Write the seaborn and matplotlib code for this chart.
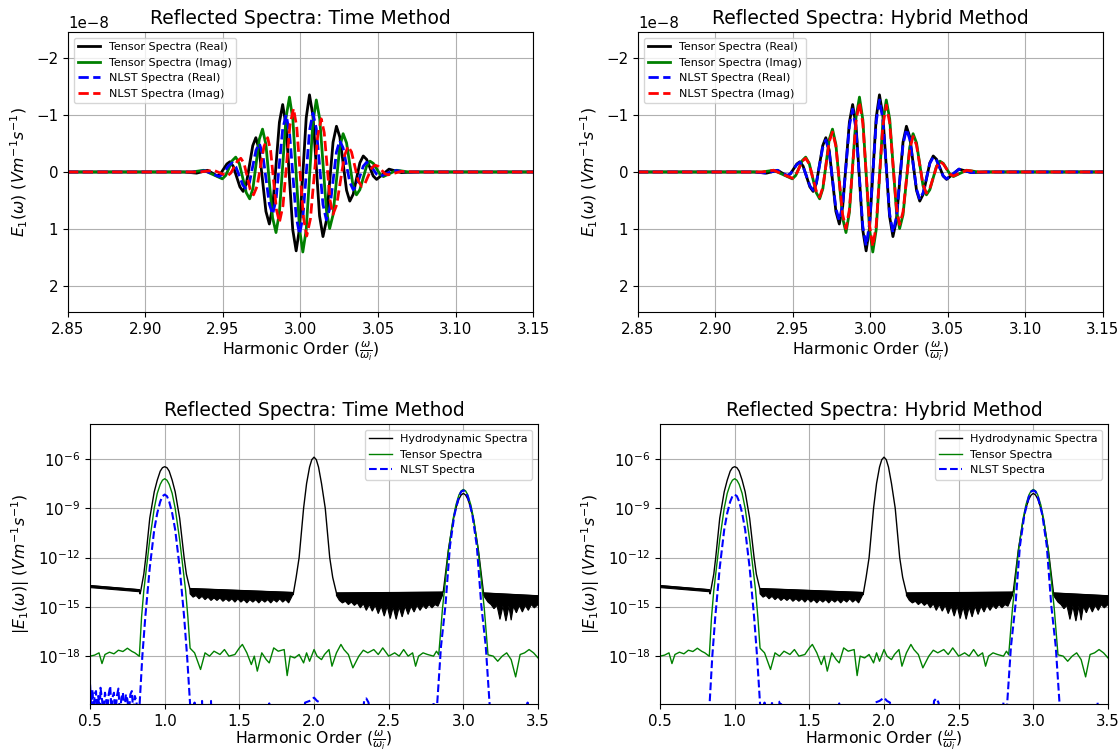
import numpy as np
import matplotlib
matplotlib.use("Agg")
import matplotlib.pyplot as plt
from matplotlib.ticker import NullLocator
import seaborn as sns

# ---- top row: reflected field around the 3rd harmonic (units of 1e-8) ----
tensor_re_x = [2.85, 2.925, 2.933, 2.940, 2.9463, 2.9484, 2.9525, 2.9545, 2.9566, 2.9609, 2.9630,
               2.9651, 2.9692, 2.9712, 2.9734, 2.9777, 2.9799, 2.9821, 2.9864, 2.9885, 2.9907,
               2.9950, 2.9972, 2.9994, 3.0037, 3.0058, 3.0080, 3.0123, 3.0145, 3.0167, 3.0210,
               3.0232, 3.0254, 3.0297, 3.0318, 3.0340, 3.0383, 3.0405, 3.0427, 3.0469, 3.0491,
               3.0571, 3.065, 3.075, 3.15]
tensor_re_y = [0, 0, 0.02, -0.03, 0.07, 0.03, -0.14, -0.18, -0.10, 0.26, 0.34,
               0.20, -0.46, -0.60, -0.38, 0.69, 0.91, 0.60, -0.87, -1.18, -0.81,
               1.01, 1.38, 0.98, -0.95, -1.35, -0.99, 0.77, 1.13, 0.85, -0.52,
               -0.80, -0.61, 0.32, 0.51, 0.39, -0.16, -0.28, -0.22, 0.07, 0.13,
               -0.05, 0.01, 0, 0]

tensor_im_x = [2.85, 2.93, 2.9375, 2.9496, 2.9518, 2.9560, 2.9582, 2.9605, 2.9650, 2.9672,
               2.9693, 2.9734, 2.9755, 2.9777, 2.9820, 2.9842, 2.9864, 2.9907, 2.9929, 2.9951,
               2.9994, 3.0015, 3.0037, 3.0080, 3.0102, 3.0124, 3.0167, 3.0188, 3.0210, 3.0253,
               3.0275, 3.0297, 3.0339, 3.0361, 3.0383, 3.0426, 3.0448, 3.0470, 3.0513, 3.0535,
               3.062, 3.07, 3.15]
tensor_im_y = [0, 0, -0.03, 0.12, 0.06, -0.20, -0.26, -0.15, 0.36, 0.47,
               0.29, -0.57, -0.75, -0.48, 0.80, 1.06, 0.71, -0.96, -1.31, -0.91,
               1.00, 1.40, 1.01, -0.87, -1.26, -0.93, 0.66, 0.99, 0.75, -0.43,
               -0.67, -0.51, 0.24, 0.40, 0.31, -0.10, -0.19, -0.15, 0.04, 0.08,
               -0.03, 0, 0]

# NLST, time method
nlst_re_time_x = [2.85, 2.93, 2.9385, 2.9475, 2.9496, 2.9539, 2.956, 2.9583, 2.9628, 2.965,
                  2.9671, 2.9713, 2.9734, 2.9756, 2.9799, 2.982, 2.9842, 2.9885, 2.9907, 2.9929,
                  2.9972, 2.9994, 3.0016, 3.0058, 3.008, 3.0102, 3.0145, 3.0167, 3.0189, 3.0232,
                  3.0253, 3.0275, 3.0318, 3.034, 3.0362, 3.0405, 3.0426, 3.0448, 3.0491, 3.0513,
                  3.06, 3.068, 3.15]
nlst_re_time_y = [0, 0, -0.02, 0.08, 0.04, -0.12, -0.16, -0.09, 0.23, 0.30,
                  0.18, -0.38, -0.50, -0.32, 0.56, 0.74, 0.49, -0.75, -1.00, -0.69,
                  0.78, 1.09, 0.78, -0.72, -1.03, -0.76, 0.57, 0.84, 0.64, -0.35,
                  -0.55, -0.42, 0.18, 0.31, 0.24, -0.10, -0.17, -0.13, 0.04, 0.08,
                  -0.03, 0, 0]

nlst_im_time_x = [2.85, 2.935, 2.944, 2.9528, 2.9550, 2.9593, 2.9615, 2.9636, 2.9676, 2.9697,
                  2.9720, 2.9765, 2.9788, 2.9807, 2.9845, 2.9864, 2.9887, 2.9932, 2.9955, 2.9976,
                  3.0019, 3.004, 3.0064, 3.0111, 3.0134, 3.0153, 3.0191, 3.021, 3.0234, 3.0283,
                  3.0307, 3.0329, 3.0372, 3.0394, 3.0416, 3.0459, 3.048, 3.0501, 3.0544, 3.0565,
                  3.065, 3.075, 3.15]
nlst_im_time_y = [0, 0, -0.03, 0.07, 0.02, -0.19, -0.24, -0.15, 0.31, 0.40,
                  0.25, -0.45, -0.60, -0.38, 0.66, 0.88, 0.59, -0.82, -1.11, -0.78,
                  0.79, 1.12, 0.82, -0.63, -0.93, -0.69, 0.50, 0.74, 0.57, -0.28,
                  -0.45, -0.35, 0.15, 0.25, 0.20, -0.07, -0.12, -0.10, 0.03, 0.05,
                  -0.01, 0, 0]

# NLST, hybrid method (sits on the tensor curves, slightly smaller)
nlst_re_hyb_y = [0, 0, 0.02, -0.03, 0.06, 0.03, -0.13, -0.17, -0.09, 0.24, 0.32,
                 0.19, -0.43, -0.56, -0.35, 0.64, 0.85, 0.56, -0.81, -1.10, -0.75,
                 0.94, 1.29, 0.91, -0.88, -1.26, -0.92, 0.72, 1.06, 0.79, -0.48,
                 -0.75, -0.57, 0.30, 0.48, 0.36, -0.15, -0.26, -0.20, 0.07, 0.12,
                 -0.05, 0.01, 0, 0]
nlst_im_hyb_y = [0, 0, -0.03, 0.11, 0.06, -0.19, -0.24, -0.14, 0.33, 0.44,
                 0.27, -0.53, -0.70, -0.45, 0.74, 0.99, 0.66, -0.89, -1.22, -0.85,
                 0.93, 1.30, 0.94, -0.81, -1.17, -0.86, 0.61, 0.92, 0.70, -0.40,
                 -0.62, -0.47, 0.22, 0.37, 0.29, -0.09, -0.18, -0.14, 0.04, 0.07,
                 -0.03, 0, 0]

# ---- bottom row: |E1| spectra, stored as log10 values ----
hydro_x = [0.5, 0.83, 0.835, 0.84, 0.86, 0.873, 0.9, 0.93, 0.95, 0.97, 0.985, 1.0, 1.015, 1.03,
           1.05, 1.07, 1.1, 1.13, 1.145, 1.168, 1.855, 1.86, 1.88, 1.9, 1.93, 1.95, 1.97, 1.985,
           2.0, 2.015, 2.03, 2.05, 2.075, 2.105, 2.125, 2.15, 2.86, 2.865, 2.9, 2.93, 2.95, 2.97,
           2.985, 3.0, 3.015, 3.03, 3.05, 3.07, 3.1, 3.135, 3.5]
hydro_log = [-13.7, -13.95, -14.2, -14.0, -13.0, -12.0, -9.6, -8.0, -7.3, -6.75, -6.54, -6.48, -6.54, -6.75,
             -7.3, -8.0, -9.6, -12.0, -13.0, -13.88, -14.12, -14.25, -13.2, -12.0, -9.0, -7.5, -6.5, -6.05,
             -5.9, -6.05, -6.5, -7.5, -9.0, -12.0, -13.2, -14.15, -14.1, -14.1, -11.5, -9.8, -9.0, -8.45,
             -8.2, -8.1, -8.2, -8.45, -9.0, -9.8, -11.5, -14.15, -14.32]

# dense oscillation of the hydrodynamic floor: upper and lower edges of each band
band0_top_x = [0.5, 0.83]
band0_top = [-13.7, -13.95]
band0_low_x = [0.5, 0.83, 0.835]
band0_low = [-13.82, -14.07, -14.2]

band1_top_x = [1.168, 1.855]
band1_top = [-13.88, -14.12]
band1_low_x = [1.17, 1.19, 1.21, 1.23, 1.25, 1.27, 1.29, 1.31, 1.33, 1.35, 1.37, 1.39, 1.41, 1.43,
               1.45, 1.47, 1.49, 1.51, 1.53, 1.55, 1.57, 1.59, 1.61, 1.63, 1.65, 1.67, 1.69, 1.71,
               1.73, 1.75, 1.77, 1.79, 1.81, 1.83, 1.855]
band1_low = [-14.2, -14.4, -14.3, -14.5, -14.35, -14.55, -14.4, -14.6, -14.45, -14.6, -14.45, -14.65,
             -14.5, -14.65, -14.5, -14.7, -14.5, -14.7, -14.55, -14.75, -14.55, -14.7, -14.55, -14.75,
             -14.55, -14.7, -14.55, -14.75, -14.55, -14.7, -14.5, -14.7, -14.55, -14.75, -14.3]

band2_top_x = [2.15, 2.86]
band2_top = [-14.15, -14.1]
band2_low_x = [2.15, 2.17, 2.19, 2.21, 2.23, 2.25, 2.27, 2.29, 2.31, 2.33, 2.35, 2.37, 2.39, 2.41,
               2.43, 2.45, 2.47, 2.49, 2.51, 2.53, 2.55, 2.57, 2.59, 2.61, 2.63, 2.65, 2.67, 2.69,
               2.71, 2.73, 2.75, 2.77, 2.79, 2.81, 2.83, 2.86]
band2_low = [-14.3, -14.6, -14.75, -14.65, -14.85, -14.7, -14.9, -14.75, -15.05, -14.8, -15.2, -14.85,
             -15.25, -14.9, -15.4, -14.95, -15.55, -14.95, -15.7, -15.0, -15.75, -15.0, -15.6, -14.95,
             -15.45, -14.95, -15.3, -14.9, -15.2, -14.9, -15.1, -14.85, -15.05, -14.85, -14.95, -14.3]

band3_top_x = [3.135, 3.5]
band3_top = [-14.15, -14.32]
band3_low_x = [3.135, 3.165, 3.185, 3.205, 3.225, 3.245, 3.265, 3.285, 3.305, 3.32, 3.335, 3.355,
               3.375, 3.395, 3.415, 3.435, 3.455, 3.475, 3.5]
band3_low = [-14.3, -14.7, -14.85, -15.1, -14.9, -15.75, -14.95, -15.85, -14.95, -15.8, -14.95, -15.35,
             -14.9, -15.3, -14.9, -15.2, -14.85, -15.05, -14.85]

tensor_abs_x = [0.5, 0.53, 0.56, 0.58, 0.6, 0.63, 0.66, 0.69, 0.72, 0.75, 0.78, 0.8, 0.83,
                0.845, 0.86, 0.9, 0.93, 0.95, 0.97, 0.985, 1.0, 1.015, 1.03, 1.05, 1.07, 1.1, 1.14,
                1.155, 1.17, 1.2, 1.24, 1.27, 1.3, 1.33, 1.37, 1.4, 1.43, 1.47, 1.5, 1.52, 1.55,
                1.58, 1.6, 1.62, 1.65, 1.68, 1.7, 1.73, 1.76, 1.8, 1.82, 1.84, 1.87, 1.9, 1.93,
                1.95, 1.97, 2.0, 2.02, 2.05, 2.07, 2.1, 2.12, 2.15, 2.18, 2.2, 2.23, 2.26, 2.3,
                2.33, 2.36, 2.4, 2.43, 2.46, 2.5, 2.54, 2.57, 2.6, 2.63, 2.66, 2.68, 2.7, 2.73,
                2.76, 2.8, 2.82, 2.835, 2.86, 2.9, 2.93, 2.95, 2.97, 2.985, 3.0, 3.015, 3.03,
                3.05, 3.07, 3.1, 3.14, 3.165, 3.2, 3.23, 3.26, 3.29, 3.32, 3.35, 3.38, 3.41,
                3.44, 3.47, 3.5]
tensor_abs_log = [-17.98, -17.92, -17.78, -18.43, -17.88, -17.74, -17.84, -17.62, -17.70, -17.50, -17.69,
                  -17.78, -17.99, -15.6, -14.0, -10.9, -9.0, -8.1, -7.55, -7.3, -7.21, -7.3, -7.55,
                  -8.1, -9.0, -10.9, -14.0, -15.6, -17.5, -17.78, -18.79, -17.78, -17.98, -17.68,
                  -17.88, -17.58, -17.98, -17.88, -17.48, -17.27, -17.78, -18.49, -17.98, -18.89,
                  -17.78, -18.19, -18.39, -17.48, -17.68, -17.58, -19.16, -17.98, -18.09, -17.88,
                  -18.39, -17.78, -18.29, -17.58, -17.98, -18.19, -17.88, -17.58, -18.59, -17.78,
                  -17.27, -17.58, -17.88, -18.69, -17.98, -17.62, -17.78, -17.58, -17.88, -17.48,
                  -17.98, -17.78, -17.98, -17.58, -17.98, -17.78, -18.59, -17.98, -17.78, -17.88,
                  -17.98, -17.68, -17.9, -15.1, -11.6, -9.7, -8.8, -8.2, -7.95, -7.86, -7.95, -8.2,
                  -8.8, -9.7, -11.6, -15.1, -17.9, -17.98, -18.29, -17.98, -17.78, -18.19, -19.24,
                  -17.88, -17.78, -17.58, -17.78, -18.09]

# NLST magnitude: numerical noise floor (time method only) and the two peaks
nlst_noise_x = [0.5, 0.51, 0.515, 0.525, 0.53, 0.54, 0.545, 0.555, 0.565, 0.57, 0.58, 0.59, 0.6,
                0.61, 0.615, 0.625, 0.635, 0.645, 0.65, 0.66, 0.67, 0.68, 0.69, 0.7, 0.71, 0.72,
                0.73, 0.74, 0.75, 0.76, 0.77, 0.78, 0.79, 0.8, 0.81, 0.82]
nlst_noise_log = [-19.7, -21.5, -20.0, -21.5, -20.3, -20.1, -21.5, -20.4, -21.5, -19.9, -20.6, -21.5,
                  -20.2, -20.7, -21.5, -20.3, -19.8, -21.5, -20.5, -20.2, -21.5, -20.4, -19.95, -21.5,
                  -20.5, -20.2, -21.5, -20.3, -20.6, -21.5, -20.3, -20.1, -21.5, -20.4, -20.7, -21.5]
nlst_floor_x = [0.5, 0.82]
nlst_floor_log = [-22.5, -22.5]

nlst_abs_x = [0.83, 0.85, 0.87, 0.9, 0.93, 0.95, 0.97, 0.985, 1.0, 1.015, 1.03, 1.05, 1.07, 1.1, 1.13,
              1.15, 1.172, 1.18, 1.2, 1.205, 1.24, 1.25, 1.255, 1.29, 1.3, 1.31, 1.315, 1.69, 1.7,
              1.705, 1.92, 1.94, 1.97, 2.0, 2.02, 2.04, 2.05, 2.32, 2.335, 2.35, 2.365, 2.38, 2.78,
              2.8, 2.81, 2.82, 2.85, 2.88, 2.91, 2.94, 2.97, 2.985, 3.0, 3.015, 3.03, 3.06, 3.09,
              3.12, 3.15, 3.18, 3.19, 3.42, 3.43, 3.44, 3.5]
nlst_abs_log = [-21.2, -18.0, -15.6, -12.6, -10.3, -9.3, -8.6, -8.27, -8.17, -8.27, -8.6, -9.3, -10.3,
                -12.6, -15.6, -18.0, -21.2, -22.5, -20.8, -22.5, -22.5, -20.7, -22.5, -22.5, -20.75,
                -20.7, -22.5, -22.5, -20.85, -22.5, -22.5, -20.8, -20.7, -20.5, -20.7, -20.8, -22.5,
                -22.5, -20.7, -20.55, -20.8, -22.5, -22.5, -20.8, -22.5, -21.5, -17.4, -14.9, -11.3,
                -9.4, -8.3, -8.0, -7.92, -8.0, -8.3, -9.4, -11.3, -14.9, -17.4, -21.5, -22.5, -22.5,
                -20.8, -22.5, -22.5]

titles = ["Reflected Spectra: Time Method", "Reflected Spectra: Hybrid Method"]
xlabel = r"Harmonic Order ($\frac{\omega}{\omega_i}$)"

TITLE_FS, LABEL_FS, TICK_FS, LEGEND_FS = 13.5, 11.3, 10.8, 8


def line(ax, x, y, **kw):
    sns.lineplot(x=np.asarray(x), y=np.asarray(y), ax=ax, estimator=None, sort=False, **kw)


def band(ax, top_x, top, low_x, low):
    xs = np.r_[top_x, low_x[::-1]]
    ys = np.power(10.0, np.r_[top, low[::-1]])
    ax.fill(xs, ys, color="black", lw=0.8)


fig = plt.figure(figsize=(11.2, 7.54), dpi=100)
ax_tl = fig.add_axes([0.0607, 0.5862, 0.4152, 0.3714])
ax_tr = fig.add_axes([0.5696, 0.5862, 0.4152, 0.3714])
ax_bl = fig.add_axes([0.0804, 0.0663, 0.4, 0.3714])
ax_br = fig.add_axes([0.5893, 0.0663, 0.4, 0.3714])

# top row
for ax, title, re_x, re_y, im_x, im_y in [
        (ax_tl, titles[0], nlst_re_time_x, nlst_re_time_y, nlst_im_time_x, nlst_im_time_y),
        (ax_tr, titles[1], tensor_re_x, nlst_re_hyb_y, tensor_im_x, nlst_im_hyb_y)]:
    line(ax, tensor_re_x, np.array(tensor_re_y) * 1e-8, color="black", lw=2, label="Tensor Spectra (Real)")
    line(ax, tensor_im_x, np.array(tensor_im_y) * 1e-8, color="green", lw=2, label="Tensor Spectra (Imag)")
    line(ax, re_x, np.array(re_y) * 1e-8, color="blue", lw=2, linestyle="--", label="NLST Spectra (Real)")
    line(ax, im_x, np.array(im_y) * 1e-8, color="red", lw=2, linestyle="--", label="NLST Spectra (Imag)")
    ax.set_xlim(2.85, 3.15)
    ax.set_ylim(2.45e-8, -2.45e-8)
    ax.set_xticks([2.85, 2.90, 2.95, 3.00, 3.05, 3.10, 3.15])
    ax.tick_params(labelsize=TICK_FS)
    ax.yaxis.get_offset_text().set_fontsize(TICK_FS)
    ax.set_title(title, fontsize=TITLE_FS)
    ax.set_xlabel(xlabel, fontsize=LABEL_FS, labelpad=2)
    ax.set_ylabel(r"$E_1(\omega)$ $(Vm^{-1}s^{-1})$", fontsize=LABEL_FS)
    ax.grid(True)
    ax.set_axisbelow(True)
    ax.legend(loc="upper left", fontsize=LEGEND_FS)

# bottom row
for ax, title, with_noise in [(ax_bl, titles[0], True), (ax_br, titles[1], False)]:
    ax.set_yscale("log")
    line(ax, hydro_x, np.power(10.0, hydro_log), color="black", lw=1, label="Hydrodynamic Spectra")
    band(ax, band0_top_x, band0_top, band0_low_x, band0_low)
    band(ax, band1_top_x, band1_top, band1_low_x, band1_low)
    band(ax, band2_top_x, band2_top, band2_low_x, band2_low)
    band(ax, band3_top_x, band3_top, band3_low_x, band3_low)
    line(ax, tensor_abs_x, np.power(10.0, tensor_abs_log), color="green", lw=1, label="Tensor Spectra")
    if with_noise:
        bx = nlst_noise_x + nlst_abs_x
        by = nlst_noise_log + nlst_abs_log
    else:
        bx = nlst_floor_x + nlst_abs_x
        by = nlst_floor_log + nlst_abs_log
    line(ax, bx, np.power(10.0, by), color="blue", lw=1.5, linestyle="--", label="NLST Spectra")
    ax.set_xlim(0.5, 3.5)
    ax.set_ylim(1.3e-21, 1.3e-4)
    ax.set_xticks([0.5, 1.0, 1.5, 2.0, 2.5, 3.0, 3.5])
    ax.set_yticks([1e-18, 1e-15, 1e-12, 1e-9, 1e-6])
    ax.yaxis.set_minor_locator(NullLocator())
    ax.tick_params(labelsize=TICK_FS)
    ax.set_title(title, fontsize=TITLE_FS)
    ax.set_xlabel(xlabel, fontsize=LABEL_FS, labelpad=0)
    ax.set_ylabel(r"$|E_1(\omega)|$ $(Vm^{-1}s^{-1})$", fontsize=LABEL_FS)
    ax.grid(True)
    ax.set_axisbelow(True)
    ax.legend(loc="upper right", fontsize=LEGEND_FS)

fig.savefig("out.png", dpi=100)
